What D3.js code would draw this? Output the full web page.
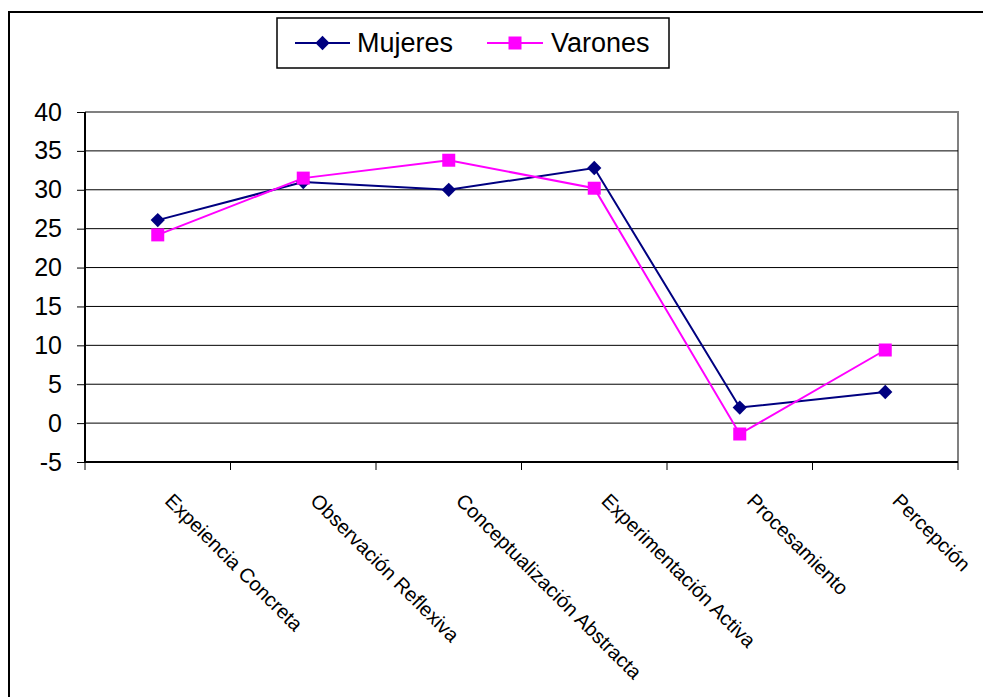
<!DOCTYPE html>
<html>
<head>
<meta charset="utf-8">
<script src="https://cdn.jsdelivr.net/npm/d3@7"></script>
<style>
  html, body { margin: 0; padding: 0; background: #fff; }
  svg { display: block; font-family: Arial, "Liberation Sans", sans-serif; }
</style>
</head>
<body>
<svg id="chart" width="983" height="697"></svg>
<script>
// Learning-style scores by dimension, split by sex
const categories = [
  "Expeiencia Concreta",
  "Observación Reflexiva",
  "Conceptualización Abstracta",
  "Experimentación Activa",
  "Procesamiento",
  "Percepción"
];
const mujeres = [26.1, 31.0, 30.0, 32.8, 2.0, 4.0];
const varones = [24.2, 31.5, 33.8, 30.2, -1.4, 9.4];
const yTicks = [-5, 0, 5, 10, 15, 20, 25, 30, 35, 40];
const seriesNames = ["Mujeres", "Varones"];
const seriesColors = ["#000080", "#FF00FF"];

const svg = d3.select("#chart");
const plot = { left: 85, right: 958, top: 112, bottom: 462 };

const x = d3.scaleBand().domain(categories).range([plot.left, plot.right]);
const y = d3.scaleLinear().domain([-5, 40]).range([plot.bottom, plot.top]);

// Outer chart frame (top and left edges visible)
svg.append("path")
  .attr("d", `M9,697 L9,12 L983,12`)
  .attr("fill", "none").attr("stroke", "#000").attr("stroke-width", 2);

// Plot area frame (top and right in grey)
svg.append("path")
  .attr("d", `M${plot.left},${plot.top} L${plot.right},${plot.top} L${plot.right},${plot.bottom}`)
  .attr("fill", "none").attr("stroke", "#808080").attr("stroke-width", 2);

// Horizontal gridlines
svg.append("g").selectAll("line")
  .data(yTicks.filter(t => t !== 40 && t !== -5))
  .join("line")
  .attr("x1", plot.left).attr("x2", plot.right)
  .attr("y1", d => y(d)).attr("y2", d => y(d))
  .attr("stroke", "#000").attr("stroke-width", 1);

// Y axis
const yAxis = svg.append("g")
  .attr("transform", `translate(${plot.left},0)`)
  .call(d3.axisLeft(y).tickValues(yTicks).tickSize(8).tickPadding(15).tickFormat(d => String(d)));
yAxis.select(".domain").attr("stroke", "#000").attr("stroke-width", 2)
  .attr("d", `M0,${plot.top}V${plot.bottom}`);
yAxis.selectAll(".tick line").attr("stroke", "#000");
yAxis.selectAll(".tick text")
  .attr("fill", "#000").style("font-size", "25px")
  .style("font-family", "Arial, 'Liberation Sans', sans-serif");

// X axis: ticks on category boundaries
const xg = svg.append("g").attr("transform", `translate(0,${plot.bottom})`);
xg.append("line")
  .attr("x1", plot.left).attr("x2", plot.right)
  .attr("stroke", "#000").attr("stroke-width", 2);
const bounds = categories.map(c => x(c)).concat([x(categories[categories.length - 1]) + x.bandwidth()]);
xg.selectAll("line.tk").data(bounds).join("line")
  .attr("class", "tk")
  .attr("x1", d => d).attr("x2", d => d)
  .attr("y1", 0).attr("y2", 8)
  .attr("stroke", "#000").attr("stroke-width", 1);

// Rotated category labels
const cx = c => x(c) + x.bandwidth() / 2;
svg.append("g").selectAll("text")
  .data(categories)
  .join("text")
  .attr("transform", d => `translate(${cx(d) + 11},${plot.bottom + 35}) rotate(45)`)
  .attr("text-anchor", "start")
  .attr("dy", "0.35em")
  .style("font-size", "20px")
  .attr("fill", "#000")
  .text(d => d);

// Series lines and markers
const seriesData = [mujeres, varones];
const line = d3.line().x((d, i) => cx(categories[i])).y(d => y(d));

seriesData.forEach((vals, si) => {
  svg.append("path")
    .datum(vals)
    .attr("d", line)
    .attr("fill", "none")
    .attr("stroke", seriesColors[si])
    .attr("stroke-width", 2);
});

const diamond = d3.symbol().type(d3.symbolDiamond2).size(130);
svg.append("g").selectAll("path")
  .data(mujeres)
  .join("path")
  .attr("transform", (d, i) => `translate(${cx(categories[i])},${y(d)})`)
  .attr("d", diamond)
  .attr("fill", seriesColors[0]);

svg.append("g").selectAll("rect")
  .data(varones)
  .join("rect")
  .attr("x", (d, i) => cx(categories[i]) - 6.5)
  .attr("y", d => y(d) - 6.5)
  .attr("width", 13).attr("height", 13)
  .attr("fill", seriesColors[1]);

// Legend
const legend = svg.append("g");
legend.append("rect")
  .attr("x", 277).attr("y", 18).attr("width", 392).attr("height", 50)
  .attr("fill", "#fff").attr("stroke", "#000").attr("stroke-width", 1.5);

const legendItems = [
  { x1: 295, x2: 350, tx: 357 },
  { x1: 487, x2: 543, tx: 551 }
];
legendItems.forEach((it, i) => {
  const ly = 43;
  legend.append("line")
    .attr("x1", it.x1).attr("x2", it.x2).attr("y1", ly).attr("y2", ly)
    .attr("stroke", seriesColors[i]).attr("stroke-width", 2);
  const mx = (it.x1 + it.x2) / 2;
  if (i === 0) {
    legend.append("path")
      .attr("transform", `translate(${mx},${ly})`)
      .attr("d", diamond).attr("fill", seriesColors[0]);
  } else {
    legend.append("rect")
      .attr("x", mx - 6.5).attr("y", ly - 6.5).attr("width", 13).attr("height", 13)
      .attr("fill", seriesColors[1]);
  }
  legend.append("text")
    .attr("x", it.tx).attr("y", ly).attr("dy", "0.35em")
    .style("font-size", "27px").attr("fill", "#000")
    .text(seriesNames[i]);
});
</script>
</body>
</html>
